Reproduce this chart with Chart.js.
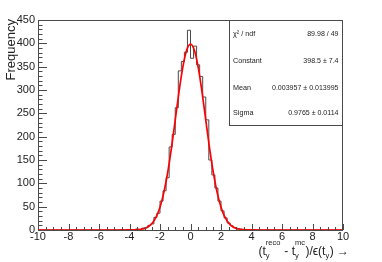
<!DOCTYPE html>
<html><head><meta charset="utf-8">
<script src="https://cdn.jsdelivr.net/npm/chart.js@4/dist/chart.umd.min.js"></script>
<style>html,body{margin:0;padding:0;background:#fff;overflow:hidden}#wrap{width:382px;height:262px;position:relative}</style>
</head><body><div id="wrap"><canvas id="c" width="382" height="262"></canvas></div>
<script>
// Histogram bins (low edges, width 0.2) and counts
const binEdges = [-5.0,-4.8,-4.6,-4.4,-4.2,-4.0,-3.8,-3.6,-3.4,-3.2,-3.0,-2.8,-2.6,-2.4,-2.2,-2.0,-1.8,-1.6,-1.4,-1.2,-1.0,-0.8,-0.6,-0.4,-0.2,0.0,0.2,0.4,0.6,0.8,1.0,1.2,1.4,1.6,1.8,2.0,2.2,2.4,2.6,2.8,3.0,3.2,3.4,3.6,3.8,4.0,4.2,4.4,4.6,4.8,5.0];
const binCounts = [0,0,1,0,1,0,1,2,1,4,5,10,13,27,36,62,84,112,178,205,262,341,361,381,428,368,394,354,329,285,236,150,118,90,62,41,26,15,9,5,3,2,1,1,0,1,0,0,0,0];
const fitX = [-10,-5,-4.5,-4,-3.75,-3.5,-3.25,-3,-2.75,-2.5,-2.25,-2,-1.75,-1.5,-1.25,-1,-0.75,-0.5,-0.25,0,0.25,0.5,0.75,1,1.25,1.5,1.75,2,2.25,2.5,2.75,3,3.25,3.5,3.75,4,4.5,5,10];
const fitY = [0,0,0,0.09,0.25,0.64,1.56,3.55,7.55,15.0,28.0,48.9,80.0,122.4,175.6,235.8,296.9,349.5,385.6,398.5,385.6,349.5,296.9,235.8,175.6,122.4,80.0,48.9,28.0,15.0,7.55,3.55,1.56,0.64,0.25,0.09,0,0,0];
const xTickValues = [-10,-8,-6,-4,-2,0,2,4,6,8,10];
const yTickValues = [0,50,100,150,200,250,300,350,400,450];
const yTitle = "Frequency";
const statsLabels = ["\u03C7\u00B2 / ndf","Constant","Mean","Sigma"];
const statsValues = ["89.98 / 49","398.5 \u00B1 7.4","0.003957 \u00B1 0.013995","0.9765 \u00B1 0.0114"];

const FONT = '"Liberation Sans", Arial, Helvetica, sans-serif';

const histPoints = [{x:-10,y:0}];
for (let i = 0; i < binCounts.length; i++) histPoints.push({x:binEdges[i], y:binCounts[i]});
histPoints.push({x:binEdges[binEdges.length-1], y:0});
histPoints.push({x:10, y:0});
const fitPoints = fitX.map((x,i)=>({x:x, y:fitY[i]}));

function squeezedText(ctx, text, x, y, align, sx) {
  ctx.save();
  ctx.translate(x, y);
  ctx.scale(sx, 1);
  ctx.textAlign = align;
  ctx.fillText(text, 0, 0);
  ctx.restore();
}

const decor = {
  id:'decor',
  afterDraw(chart){
    const ctx = chart.ctx, a = chart.chartArea;
    const xs = chart.scales.x, ys = chart.scales.y;
    ctx.save();
    ctx.strokeStyle = '#4a4a4a'; ctx.lineWidth = 1;
    // frame
    ctx.strokeRect(Math.round(a.left)+0.5, Math.round(a.top)+0.5, Math.round(a.right-a.left)-1, Math.round(a.bottom-a.top));
    // y ticks (inward)
    ctx.beginPath();
    for (let v = 0; v <= 450; v += 10) {
      const y = Math.round(ys.getPixelForValue(v)) + 0.5;
      const len = (v % 50 === 0) ? 9 : 4.5;
      ctx.moveTo(a.left, y); ctx.lineTo(a.left + len, y);
    }
    // x ticks (inward)
    for (let v = -10; v <= 10.001; v += 0.5) {
      const x = Math.round(xs.getPixelForValue(v)) + 0.5;
      const len = (Math.abs(Math.round(v) - v) < 1e-6 && Math.round(v) % 2 === 0) ? 6 : 3;
      ctx.moveTo(x, a.bottom); ctx.lineTo(x, a.bottom - len);
    }
    ctx.stroke();

    // y title
    ctx.fillStyle = '#222';
    ctx.save();
    ctx.translate(15, a.top - 1);
    ctx.rotate(-Math.PI/2);
    ctx.font = '13px ' + FONT;
    ctx.textAlign = 'right'; ctx.textBaseline = 'alphabetic';
    ctx.fillText(yTitle, 0, 0);
    ctx.restore();

    // x title with sub/superscripts
    const main = '12px ' + FONT, small = '7.5px ' + FONT;
    const parts = [
      {t:'(t'}, {sub:'y', sup:'reco'}, {t:' - t'}, {sub:'y', sup:'mc'},
      {t:')/\u03F5(t'}, {sub:'y'}, {t:') \u2192'}
    ];
    let total = 0;
    parts.forEach(p=>{
      if (p.t !== undefined) { ctx.font = main; p.w = ctx.measureText(p.t).width; }
      else { ctx.font = small; p.w = Math.max(ctx.measureText(p.sub||'').width, ctx.measureText(p.sup||'').width) + 0.5; }
      total += p.w;
    });
    let x = 349 - total;
    const base = 255;
    ctx.textAlign = 'left';
    parts.forEach(p=>{
      if (p.t !== undefined) { ctx.font = main; ctx.fillText(p.t, x, base); }
      else {
        ctx.font = small;
        if (p.sub) ctx.fillText(p.sub, x, base + 3);
        if (p.sup) ctx.fillText(p.sup, x, base - 10);
      }
      x += p.w;
    });

    // stats box
    const bx = 229, by = Math.round(a.top), bw = Math.round(a.right) - 229, bh = 105;
    ctx.fillStyle = '#fff';
    ctx.fillRect(bx, by, bw, bh);
    ctx.strokeStyle = '#4a4a4a';
    ctx.strokeRect(bx+0.5, by+0.5, bw-1, bh);
    ctx.fillStyle = '#222';
    ctx.font = '8px ' + FONT;
    const rows = [36, 63, 89.5, 114.5];
    for (let i = 0; i < rows.length; i++) {
      squeezedText(ctx, statsLabels[i], 233, rows[i], 'left', 0.9);
      squeezedText(ctx, statsValues[i], 338.5, rows[i], 'right', 0.88);
    }
    ctx.restore();
  }
};

new Chart(document.getElementById('c'), {
  type:'line',
  data:{datasets:[
    {data:fitPoints, borderColor:'#ff0000', borderWidth:1.7, pointRadius:0, fill:false, cubicInterpolationMode:'monotone', clip:4, order:0},
    {data:histPoints, borderColor:'#4a4a4a', borderWidth:1, pointRadius:0, fill:false, stepped:true, clip:4, order:1}
  ]},
  options:{
    responsive:false, animation:false, events:[],
    layout:{padding:{top:20,right:39,left:0,bottom:0}},
    plugins:{legend:{display:false}, tooltip:{enabled:false}},
    scales:{
      x:{type:'linear', min:-10, max:10,
        afterBuildTicks:s=>{s.ticks = xTickValues.map(v=>({value:v}));},
        afterFit:s=>{s.height = 32; s.paddingLeft = 0; s.paddingRight = 0;},
        grid:{display:false, drawTicks:false}, border:{display:false},
        ticks:{font:{family:FONT,size:11}, color:'#222', padding:0, maxRotation:0, autoSkip:false, callback:v=>String(v)}},
      y:{type:'linear', min:0, max:450,
        afterBuildTicks:s=>{s.ticks = yTickValues.map(v=>({value:v}));},
        afterFit:s=>{s.width = 38;},
        grid:{display:false, drawTicks:false}, border:{display:false},
        ticks:{font:{family:FONT,size:11}, color:'#222', padding:3, autoSkip:false, callback:v=>String(v)}}
    }
  },
  plugins:[decor]
});
</script></body></html>
